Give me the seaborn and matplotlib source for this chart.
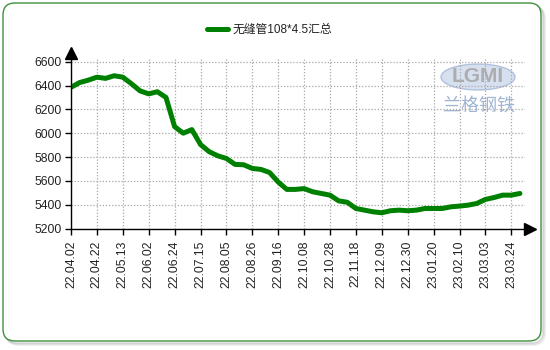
import matplotlib
matplotlib.use("Agg")
import numpy as np
import pandas as pd
import seaborn as sns
import matplotlib.pyplot as plt
from matplotlib.patches import FancyBboxPatch, Ellipse

series_name = "无缝管108*4.5汇总"
tick_labels = ["22.04.02", "22.04.22", "22.05.13", "22.06.02", "22.06.24", "22.07.15",
               "22.08.05", "22.08.26", "22.09.16", "22.10.08", "22.10.28", "22.11.18",
               "22.12.09", "22.12.30", "23.01.20", "23.02.10", "23.03.03", "23.03.24"]
prices = [6385, 6425, 6445, 6470, 6460, 6482, 6470, 6415, 6355, 6330,
          6348, 6300, 6055, 6000, 6030, 5905, 5845, 5810, 5788, 5738,
          5735, 5704, 5696, 5670, 5590, 5528, 5528, 5535, 5508, 5494,
          5480, 5432, 5420, 5368, 5354, 5340, 5332, 5349, 5354, 5349,
          5354, 5368, 5368, 5368, 5382, 5388, 5396, 5410, 5444, 5460,
          5480, 5480, 5494]
y_ticks = [5200, 5400, 5600, 5800, 6000, 6200, 6400, 6600]

sns.set_theme(style="white")
plt.rcParams['font.family'] = ['Liberation Sans', 'Noto Sans CJK SC', 'DejaVu Sans']

W, H = 550, 350
fig = plt.figure(figsize=(W / 100, H / 100), dpi=100)
fig.patch.set_facecolor("white")

# rounded frame with soft shadow (drawn behind the axes)
for off, a in [(4, 0.10), (3, 0.15), (2, 0.22)]:
    sh = FancyBboxPatch((3 + 12 + off, 9 + 12 - off), 538 - 24, 338 - 24,
                        boxstyle="round,pad=12", transform=None,
                        facecolor="none", edgecolor="#808080", linewidth=1.5, alpha=a,
                        zorder=-10)
    fig.patches.append(sh)
frame = FancyBboxPatch((3 + 12, 9 + 12), 538 - 24, 338 - 24, boxstyle="round,pad=12",
                       transform=None, facecolor="white", edgecolor="#3f8f3f", linewidth=1.0,
                       zorder=-9)
fig.patches.append(frame)

x0, x1 = 71, 525
ytop, ybot = 58, 228.5
ax = fig.add_axes([x0 / W, 1 - ybot / H, (x1 - x0) / W, (ybot - ytop) / H])
ax.set_zorder(5)
ax.set_facecolor("none")

df = pd.DataFrame({"idx": np.arange(len(prices)), "price": prices})
sns.lineplot(data=df, x="idx", y="price", ax=ax, color="#008000", linewidth=3.6,
             legend=False, solid_joinstyle="round", solid_capstyle="round")

tick_pos = np.arange(len(tick_labels)) * 3
ax.set_xticks(tick_pos)
ax.set_xticklabels(tick_labels, rotation=90)
ax.set_yticks(y_ticks)
ax.set_xlim(0, (x1 - x0) / (25.9 / 3))
ax.set_ylim(5200, 6631)
ax.set_xlabel("")
ax.set_ylabel("")

ax.grid(True, color="#a8a8a8", linestyle=(0, (1, 1.5)), linewidth=0.9)
for s in ["top", "right"]:
    ax.spines[s].set_visible(False)
for s in ["left", "bottom"]:
    ax.spines[s].set_color("black")
    ax.spines[s].set_linewidth(1.0)
ax.tick_params(axis="both", direction="out", length=4, width=1, color="black",
               labelsize=8.7, labelcolor="#222222", pad=3, left=True, bottom=True)
ax.tick_params(axis="x", pad=5)

# axis arrows
ax.plot([1.011], [0], marker=">", color="black", markersize=8, transform=ax.transAxes, clip_on=False)
ax.plot([0], [1.03], marker="^", color="black", markersize=8, transform=ax.transAxes, clip_on=False)

leg = ax.legend([ax.lines[0]], [series_name], loc="center", bbox_to_anchor=(0.49, 0.914),
                bbox_transform=fig.transFigure, frameon=False, fontsize=8.5,
                handlelength=1.8, handletextpad=0.35)
for t in leg.get_texts():
    t.set_color("#222222")

# watermark logo (LGMI / 兰格钢铁)
wm = Ellipse((478 / W, 1 - 77 / H), 74 / W, 26 / H, transform=fig.transFigure,
             facecolor="#c9d6ea", edgecolor="#9fb3d3", linewidth=1.0, alpha=0.75, zorder=-5)
fig.patches.append(wm)
fig.text(478 / W, 1 - 76 / H, "LGMI", ha="center", va="center", fontsize=15,
         fontweight="bold", color="#a8a8a8", alpha=0.9, zorder=-4)
fig.text(479 / W, 1 - 107 / H, "兰格钢铁", ha="center", va="center", fontsize=13,
         color="#8fa8cc", alpha=0.85, style="italic", zorder=-4,
         family=['Noto Sans CJK SC', 'DejaVu Sans'])

fig.savefig("out.png", dpi=100, facecolor="white")
